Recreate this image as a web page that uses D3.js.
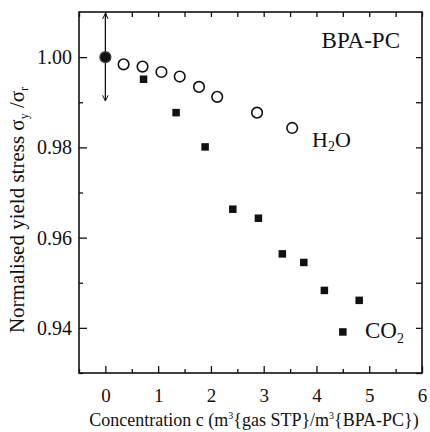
<!DOCTYPE html>
<html><head><meta charset="utf-8">
<script src="https://cdn.jsdelivr.net/npm/d3@7"></script>
<style>body{margin:0;background:#fff}svg{display:block}text{font-family:"Liberation Serif","Times New Roman",serif;fill:#111}</style>
</head><body><svg id="c" width="430" height="432"></svg>
<script>
// data
const h2oX = [0.345, 0.704, 1.062, 1.409, 1.774, 2.119, 2.874, 3.54];
const h2oY = [0.9984, 0.9979, 0.9967, 0.9957, 0.9934, 0.9912, 0.9877, 0.9843];
const co2X = [0.723, 1.34, 1.89, 2.415, 2.9, 3.353, 3.76, 4.15, 4.81, 4.50];
const co2Y = [0.9951, 0.9877, 0.9801, 0.9663, 0.9643, 0.9564, 0.9545, 0.9483, 0.9461, 0.9391];
const refX = [0];
const refY = [1.0];
const refErr = [0.0097];
const xTicks = [0, 1, 2, 3, 4, 5, 6];
const xMinorTicks = [-0.5, 0.5, 1.5, 2.5, 3.5, 4.5, 5.5];
const yTicks = [0.94, 0.96, 0.98, 1.00];
const yMinorTicks = [0.93, 0.95, 0.97, 0.99];

const svg = d3.select("#c");
const L = 79, T = 12, R = 422, B = 373;
const x = d3.scaleLinear().domain([-0.5, 6]).range([L, R]);
const y = d3.scaleLinear().domain([0.93, 1.01]).range([B, T]);
const ink = "#111";

function styleAxis(g){ g.select(".domain").remove(); g.selectAll("line").attr("stroke", ink).attr("stroke-width", 1.3); g.selectAll("text").attr("font-size", 20).attr("fill", ink); }

// bottom
svg.append("g").attr("transform", `translate(0,${B})`)
  .call(d3.axisBottom(x).tickValues(xTicks).tickSize(-7).tickPadding(16).tickFormat(d3.format("d"))).call(styleAxis)
  .selectAll("text").attr("font-size", 19);
svg.append("g").attr("transform", `translate(0,${B})`)
  .call(d3.axisBottom(x).tickValues(xMinorTicks).tickSize(-4).tickFormat("")).call(styleAxis);
// top
svg.append("g").attr("transform", `translate(0,${T})`)
  .call(d3.axisTop(x).tickValues(xTicks.concat(xMinorTicks)).tickSize(-5).tickFormat("")).call(styleAxis);
// left
svg.append("g").attr("transform", `translate(${L},0)`)
  .call(d3.axisLeft(y).tickValues(yTicks).tickSize(-8).tickPadding(7).tickFormat(d3.format(".2f"))).call(styleAxis);
svg.append("g").attr("transform", `translate(${L},0)`)
  .call(d3.axisLeft(y).tickValues(yMinorTicks).tickSize(-4).tickFormat("")).call(styleAxis);
// right
svg.append("g").attr("transform", `translate(${R},0)`)
  .call(d3.axisRight(y).tickValues(yTicks.concat(yMinorTicks)).tickSize(-6).tickFormat("")).call(styleAxis);

// frame
svg.append("rect").attr("x", L).attr("y", T).attr("width", R - L).attr("height", B - T)
  .attr("fill", "none").attr("stroke", ink).attr("stroke-width", 1.6);

// error arrow
const defs = svg.append("defs");
defs.append("marker").attr("id", "ah").attr("viewBox", "0 0 10 10").attr("refX", 9).attr("refY", 5)
  .attr("markerWidth", 7).attr("markerHeight", 7).attr("orient", "auto-start-reverse").attr("markerUnits", "userSpaceOnUse")
  .append("path").attr("d", "M1,1 L9,5 L1,9").attr("fill", "none").attr("stroke", ink).attr("stroke-width", 1.4);
svg.selectAll(".err").data(refX).join("line")
  .attr("x1", (d) => x(d)).attr("x2", (d) => x(d))
  .attr("y1", (d, i) => y(refY[i] + refErr[i])).attr("y2", (d, i) => y(refY[i] - refErr[i]))
  .attr("stroke", ink).attr("stroke-width", 1.3)
  .attr("marker-start", "url(#ah)").attr("marker-end", "url(#ah)");

// reference point
svg.selectAll(".ref").data(refX).join("circle")
  .attr("cx", (d) => x(d)).attr("cy", (d, i) => y(refY[i])).attr("r", 5.5)
  .attr("fill", "#111").attr("stroke", "#444").attr("stroke-width", 1.2);

// H2O circles
svg.selectAll(".h2o").data(h2oX).join("circle")
  .attr("cx", (d) => x(d)).attr("cy", (d, i) => y(h2oY[i])).attr("r", 5.3)
  .attr("fill", "none").attr("stroke", ink).attr("stroke-width", 1.6);

// CO2 squares
const s = 7.5;
svg.selectAll(".co2").data(co2X).join("rect")
  .attr("x", (d) => x(d) - s / 2).attr("y", (d, i) => y(co2Y[i]) - s / 2)
  .attr("width", s).attr("height", s).attr("fill", ink);

// labels
svg.append("text").attr("x", 400).attr("y", 48).attr("text-anchor", "end").attr("font-size", 23).text("BPA-PC");
const h = svg.append("text").attr("x", 312).attr("y", 147).attr("font-size", 22);
h.append("tspan").text("H");
h.append("tspan").attr("font-size", 14).attr("dy", 4).text("2");
h.append("tspan").attr("dy", -4).text("O");
const c = svg.append("text").attr("x", 365).attr("y", 338).attr("font-size", 23);
c.append("tspan").text("CO");
c.append("tspan").attr("font-size", 14).attr("dy", 5).text("2");

// x title
const xt = svg.append("text").attr("x", 254).attr("y", 426).attr("text-anchor", "middle").attr("font-size", 18);
xt.append("tspan").text("Concentration c (m");
xt.append("tspan").attr("font-size", 10).attr("dy", -7).text("3");
xt.append("tspan").attr("dy", 7).text("{gas STP}/m");
xt.append("tspan").attr("font-size", 10).attr("dy", -7).text("3");
xt.append("tspan").attr("dy", 7).text("{BPA-PC})");

// y title
const yt = svg.append("text").attr("transform", "translate(24,210) rotate(-90)").attr("text-anchor", "middle").attr("font-size", 21);
yt.append("tspan").text("Normalised yield stress σ");
yt.append("tspan").attr("font-size", 12).attr("dy", 4).text("y");
yt.append("tspan").attr("dy", -4).text(" /σ");
yt.append("tspan").attr("font-size", 12).attr("dy", 4).text("r");
</script></body></html>
